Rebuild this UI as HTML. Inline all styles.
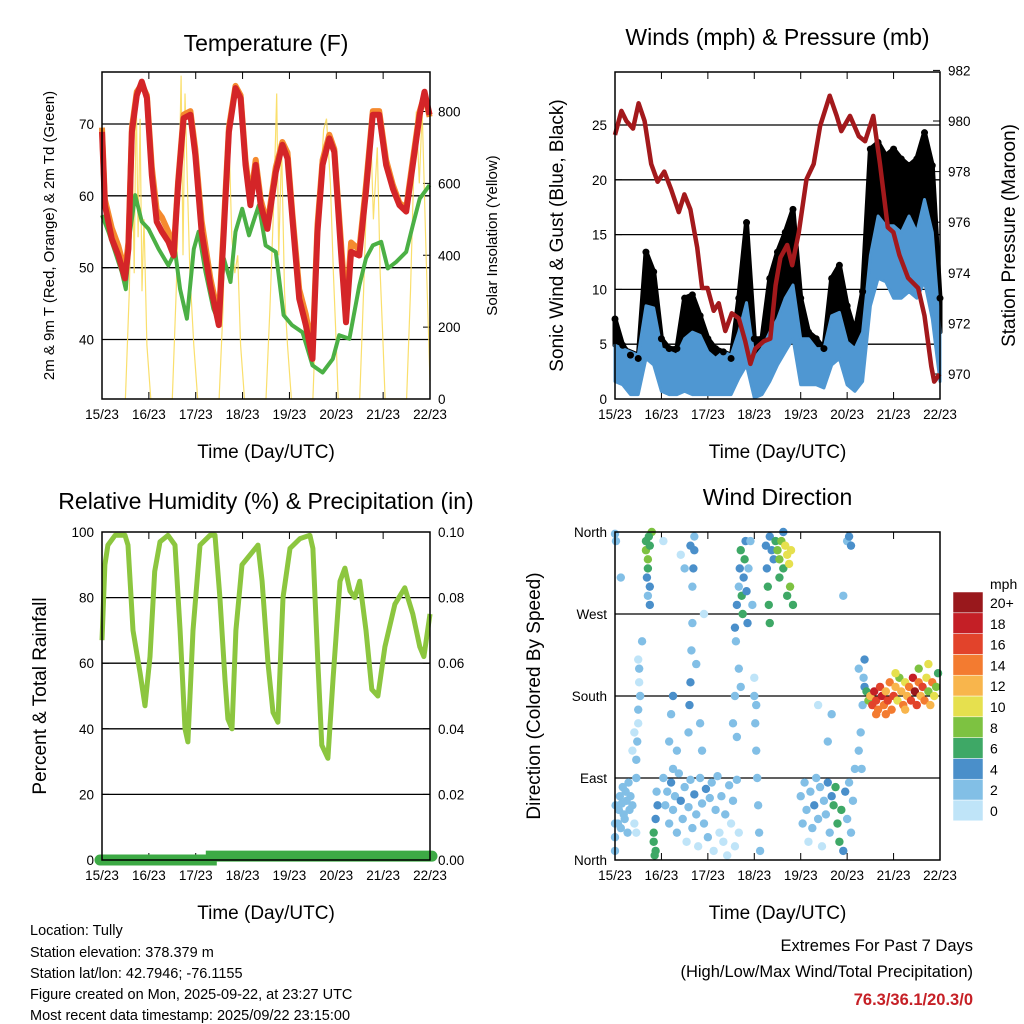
<!DOCTYPE html>
<html><head><meta charset="utf-8"><style>
html,body{margin:0;padding:0;background:#fff;}
svg{display:block;font-family:"Liberation Sans",sans-serif;}
</style></head><body>
<svg id="root" width="1024" height="1024" viewBox="0 0 1024 1024">
<g font-size="14.5" fill="#000">
<text x="30" y="935">Location: Tully</text>
<text x="30" y="957">Station elevation: 378.379 m</text>
<text x="30" y="978">Station lat/lon: 42.7946; -76.1155</text>
<text x="30" y="999">Figure created on Mon, 2025-09-22, at 23:27 UTC</text>
<text x="30" y="1020">Most recent data timestamp: 2025/09/22 23:15:00</text>
</g>
<g text-anchor="end">
<text x="973" y="951" font-size="16.5">Extremes For Past 7 Days</text>
<text x="973" y="977" font-size="16.5">(High/Low/Max Wind/Total Precipitation)</text>
<text x="973" y="1005" font-size="16.5" font-weight="bold" fill="#c62026">76.3/36.1/20.3/0</text>
</g>
</svg>
<script>
// ---------- DATA ----------
const dayLabels=["15/23","16/23","17/23","18/23","19/23","20/23","21/23","22/23"];
const tempHours=[0,1.5,5,8.4,11.8,13.5,15.3,17.8,20.4,23,25.5,28,30.7,34,36.7,39,41.8,45.3,47.8,51,55.5,59.8,62.4,65,68.4,71,73.5,76,78.7,81.3,84.7,89,92.4,95,97.5,101,104.4,107.8,110.4,113,116.4,119,122.4,125,127.6,131.8,135.2,138.7,142,145.5,149,152.4,155.8,159.2,162.7,165.2,167.8];
const tempRed=[68.9,58.7,54,51.7,48.5,52.6,68.9,74,75.9,73.6,62.9,56.4,55,53.6,51.7,61.5,70.8,71.3,65.7,55,47.5,42,55,68.9,75,73.6,64.3,58.7,64.3,58.7,55.4,63.3,67.1,65.2,56.8,45.7,42,37.3,55,64.3,68,66.1,52.2,42.4,52.2,51.7,60.6,71.3,71.3,64.3,61,58.7,57.8,64.3,71.3,74.5,71.3];
const tempOrange=[69.5,59.5,55.5,53,49.5,53.5,69.5,74.5,75.5,74,64,58,57,55,52.5,62,71.3,71.8,66.5,56.5,48.5,43,56,69.5,75.3,74,65,59.5,65,59.5,56,64,67.5,66,57.5,47,43.5,38.5,56,65,68.5,66.5,53.5,44,53.5,52.5,61.5,71.8,71.8,65,61.5,59,58.3,65,71.8,74,71];
const dewHours=[0,3.3,6.7,10.1,12.2,14.4,17,20.4,23.8,29,34,37.5,40,43.5,47,49.5,53,57,59.8,62.4,65.8,68.4,71.8,75.3,80.3,83.8,89,93,97.3,102.7,107.8,113,118.2,121.5,126.7,131.8,135.2,138.7,143,146.4,150.7,155.8,159.2,162.7,167.8];
const dewValues=[57.3,55,52.2,49.4,47,55,60.1,56.4,55.4,52.6,50.3,52.2,47,42.9,52.6,55,49.4,44.3,42.4,51.3,48,55,58.2,54.5,58.7,53.1,52.2,43.4,42,41,36.4,35.4,37.3,40.6,40.1,47.5,51.3,53.1,53.6,49.9,50.8,52.2,55.9,59.6,61.5];
const solarHours=[12,14,15.5,16.5,17.5,18.5,19.5,20.5,21.5,23,25, 36,38,39.5,40.5,41.5,42.5,44,45,47,49, 60,62,63.5,65,66.5,68,69.5,71,73, 84,86,88,89.5,90.5,92,93.5,95,97, 108,110,112,113.5,115,117,118.5,120,121, 132,134,136,137.5,139,141,142.5,144,145, 156,158,160,161,162.5,164,166,168];
const solarValues=[0,300,700,350,860,450,780,300,500,150,0, 0,300,600,900,400,850,550,350,150,0, 0,250,600,740,450,350,400,150,0, 0,250,550,850,400,700,300,150,0, 0,300,600,750,780,600,350,150,0, 0,300,650,770,500,700,350,150,0, 0,300,700,800,600,800,400,50];
const presHours=[0,3.3,5.9,9.3,12.2,15.3,18.7,22,25.5,29,33,35.9,39,42.5,45,47.8,51,53.6,57,60.4,64,67.3,70,72.5,77,80.3,83,85.5,89,91.6,95,99,102.7,106,111,114.6,117,121.5,126,129.3,133.5,137,141,143.9,147,151.5,156.7,160,163.5,165,167.8];
const presValues=[979.45,980.4,980,979.7,980.7,980,978.3,977.6,978,977.3,976.4,977.1,976.5,975,973.4,973.4,972.5,972.8,971.7,972.4,972.2,971.3,970.4,971,971.3,971.4,973.5,974.6,975.1,974.3,975.6,977.7,978.3,979.8,981,980.2,979.6,980.2,979.4,979.2,980.2,978.3,975.8,975.6,974.7,973.8,973.4,972.3,970.3,969.7,970];
const windHours=[0,4,8,12,16,20,24,28,32,36,40,44,48,52,56,60,64,68,72,76,80,84,88,92,96,100,104,108,112,116,120,124,128,132,136,140,144,148,152,156,160,164,168];
const windLow=[1.6,1.3,0.4,0.4,3.7,3.1,0.7,0.4,0.4,0.7,0.4,0.4,0.4,0.4,0.4,0.4,1.9,3.1,0.1,0.4,1.6,3.1,4.3,5.5,1.3,1.3,1.3,1,3.1,3.7,1.3,0.7,1.6,8.5,11,10.7,9.2,9.2,9.8,9.2,10.7,7.3,1.6];
const windHigh=[4.9,4.6,4.3,4,8.5,8.3,4.6,4.3,4,5.5,6.1,5.8,4.3,3.7,4.3,4,6.1,8.8,3.7,4.6,6.1,7.3,9.2,10.4,5.5,5.5,4.6,4.6,7.6,7.9,5.2,4.6,6.1,13.1,16.7,15.8,15.8,15.2,16.7,15.2,18.2,15.2,6.1];
const windGust=[7.3,4.9,4,3.7,13.4,11.6,5.5,4.6,4.6,9.2,9.5,7.6,5.5,4.6,4.3,3.7,9.2,16.1,5.5,5.5,11,13.4,15.2,17.3,9.2,6.1,5.5,4.6,11,12.2,8.5,6.1,9.8,22.8,23.4,22.2,22.8,21.9,21.3,21.9,24.3,21.3,9.2];
const rhHours=[0,1.5,3,6.7,11.8,13.3,15.9,19.5,22,24.6,27,29.7,33.8,37.4,40,42.5,44,46.6,50.2,55.3,57.9,60.4,63,64.5,66.6,68.6,71.7,75.8,79.9,82,85,87.6,90.1,92.7,96.3,101.4,106.5,108,110.6,112.6,115.7,118.3,121.9,124.4,127,129.5,132,135.2,138.2,141.3,144.9,150,155.1,159.2,162.8,164.9,168];
const rhValues=[67,90,96,99,99,96,70,57,47,62,88,97,99,96,70,40,36,70,96,99,99,80,55,43,40,70,90,93,96,85,60,45,42,80,95,98,99,95,60,35,31,55,85,89,82,80,85,70,52,50,65,78,83,75,65,62,75];
const precipHours=[-1,56,56,169];
const precipValues=[0,0,0.0012,0.0012];
const dirObs=[[0,10,3],[0,25,3],[0,40,2],[0.3,60,3],[0,358,2],[0.5,350,2],
[1.5,40,2],[2,55,2],[2.5,70,3],[3,35,2],[3.5,62,2],[4,80,2],[4.5,50,3],[5,45,2],[5.5,75,2],[6,65,3],[6.5,30,2],[7,85,2],[7.5,55,2],[8,70,3],[9,60,2],[10,40,1],[11,90,2],[11,110,2],[11.5,130,2],[12,150,1],[12,165,2],[12.5,195,1],[12.5,210,2],[12,220,1],[13,180,2],[14,240,2],[10,140,1],[9,120,1],[11,30,1],[3,310,2],
[16,350,6],[16,340,8],[17,330,8],[17,320,6],[16.5,310,4],[18,345,6],[18,300,4],[19,360,8],[17.5,355,6],[17,290,3],[18,280,4],[20,20,6],[20,30,6],[21,10,6],[21,45,5],[20.5,5,6],[22,60,5],[21.5,75,3],
[25,90,3],[26,60,2],[27,75,3],[28,40,2],[29,85,4],[30,55,2],[31,70,3],[32,30,2],[33,95,2],[34,65,4],[35,45,2],[36,80,3],[37,20,1],[38,58,2],[39,88,3],[40,35,2],[41,72,4],[42,50,3],[43,15,1],[44,90,2],[45,62,3],[46,40,2],[47,78,4],[48,25,2],[49,68,3],[50,85,2],[51,10,1],[52,55,2],[53,92,3],[54,30,1],[55,70,2],[56,20,1],[57,50,2],[58,5,1],[59,82,2],[60,40,1],[61,65,2],[62,15,1],[63,88,2],[64,30,1],
[28,130,2],[29,160,2],[30,180,4],[32,120,2],[38,140,2],[38.5,170,4],[39,195,4],[39.5,230,2],[40,260,2],[40,300,3],[40.5,320,5],[41,340,4],[41,355,3],[39,345,4],[36,320,2],[34,335,1],[25,350,1],[46,270,1],[42,215,2],[44,150,3],[45,120,2],[30,100,2],
[62,255,4],[62.5,240,3],[63,280,4],[64,300,3],[64.5,320,4],[65,340,6],[65.5,290,6],[66,270,6],[66.5,310,4],[67,330,6],[67.5,350,4],[68,295,5],[68.5,260,4],[69,320,3],[70,350,3],[71,280,3],[64,210,2],[65,190,2],[62,180,2],[61,150,2],[63,135,2],
[72,180,3],[72.5,150,2],[73,120,2],[73.5,90,2],[74,60,2],[74.5,30,2],[75,10,3],[72,200,1],[73,170,2],
[78,345,4],[78.5,320,4],[79,300,6],[79.5,280,6],[80,355,4],[81,340,4],[82,330,5],[83,350,7],[84,340,8],[85,330,8],[86,350,8],[87,320,7],[88,345,10],[89,335,10],[90,325,10],[91,340,10],[90.5,300,8],[92,280,6],[89,290,7],[87,360,5],[85,310,6],[80,260,6],
[96,70,3],[97,40,2],[98,85,3],[99,55,2],[100,20,1],[101,75,3],[102,35,2],[103,60,4],[104,90,2],[105,45,3],[106,80,2],[107,15,1],[108,65,3],[109,50,2],[110,85,4],[111,30,3],[112,70,4],[113,60,6],[114,80,6],[115,40,6],[116,20,6],[117,55,6],[118,10,5],[119,75,4],[120,45,3],[121,85,3],[122,30,2],[123,65,2],[124,100,3],[110,130,2],[112,160,3],[105,170,1],[120,350,3],[121,355,4],[122,345,4],[118,290,3],[126,210,2],
[126,120,2],[127,140,2],[128,170,3],[128.5,200,3],[129,220,4],[127.5,100,2],[129,190,5],[130,185,6],
[131,175,8],[132,180,12],[133,170,16],[134,185,18],[135,175,16],[136,165,14],[137,190,16],[138,180,18],[139,170,14],[140,185,12],[141,175,16],[142,195,14],[143,165,14],[144,180,16],[145,190,12],[146,175,10],[147,200,8],[148,185,12],[149,170,14],[150,195,10],[151,180,12],[152,190,14],[153,175,16],[154,200,18],[155,185,20],[156,170,16],[157,195,14],[158,180,12],[159,190,16],[160,175,14],[161,200,10],[162,185,8],[163,170,12],[164,195,14],[165,180,10],[166,190,8],[167,205,6],[135,160,14],[140,160,14],[145,205,10],[150,165,12],[157,210,8],[162,215,10]];
const speedColors=["#bfe4f8","#82bfe6","#4a8fca","#3ea866","#7dc241","#e6e04e","#f8b54c","#f37b30","#e2432b","#c41f26","#99181c"];
const speedLabels=["0","2","4","6","8","10","12","14","16","18","20+"];

// ---------- HELPERS ----------
const NS="http://www.w3.org/2000/svg";
const root=document.getElementById('root');
function el(tag,attrs,parent){const e=document.createElementNS(NS,tag);for(const k in attrs)e.setAttribute(k,attrs[k]);(parent||root).appendChild(e);return e;}
function lin(d0,d1,r0,r1){return v=>r0+(v-d0)/(d1-d0)*(r1-r0);}
function path(xs,ys,fx,fy){return xs.map((h,i)=>(i?'L':'M')+fx(h).toFixed(1)+' '+fy(ys[i]).toFixed(1)).join('');}

function panel(o){
  const g=el('g',{});
  
  
  const fx=lin(0,168,o.x0,o.x1);
  o.grid.forEach(v=>{const l=el('line',{x1:o.x0,x2:o.x1,y1:o.fy(v),y2:o.fy(v),stroke:'#000','stroke-width':1.3},g);});
  const t=el('text',{x:(o.x0+o.x1)/2,y:o.titleY,'text-anchor':'middle','font-size':23},g);t.textContent=o.title;
  
  const xt=el('text',{x:(o.x0+o.x1)/2,y:o.y1+59,'text-anchor':'middle','font-size':19},g);xt.textContent='Time (Day/UTC)';
  
  dayLabels.forEach((d,i)=>{const x=fx(i*24);const tx=el('text',{x:x,y:o.y1+20,'text-anchor':'middle','font-size':13.5},g);tx.textContent=d;
    
    el('line',{x1:x,x2:x,y1:o.y1,y2:o.y1-7,stroke:'#000'},g);el('line',{x1:x,x2:x,y1:o.y0,y2:o.y0+7,stroke:'#000'},g);});
  const ly=el('text',{transform:`translate(${o.lyX},${(o.y0+o.y1)/2}) rotate(-90)`,'text-anchor':'middle','font-size':o.lyFs},g);ly.textContent=o.leftTitle;
  
  if(o.rightTitle){const ry=el('text',{transform:`translate(${o.ryX},${(o.y0+o.y1)/2}) rotate(-90)`,'text-anchor':'middle','font-size':o.ryFs},g);ry.textContent=o.rightTitle;
    }
  o.lticks.forEach(([v,s])=>{const y=o.fy(v);const tx=el('text',{x:o.x0-8,y:y+5,'text-anchor':'end','font-size':13.5},g);tx.textContent=s;
    
    el('line',{x1:o.x0,x2:o.x0+7,y1:y,y2:y,stroke:'#000'},g);});
  (o.rticks||[]).forEach(([y,s])=>{const tx=el('text',{x:o.x1+8,y:y+5,'font-size':13.5},g);tx.textContent=s;
    
    el('line',{x1:o.x1,x2:o.x1-7,y1:y,y2:y,stroke:'#000'},g);});
  return {g,fx};
}
function frame(o,g){const r=el('rect',{x:o.x0,y:o.y0,width:o.x1-o.x0,height:o.y1-o.y0,fill:'none',stroke:'#000','stroke-width':1.5},g);}

// ---------- TEMPERATURE ----------
const P1={name:'temperature-panel',x0:102,x1:430,y0:72,y1:399,title:'Temperature (F)',titleY:51,leftTitle:'2m & 9m T (Red, Orange) & 2m Td (Green)',lyX:54,lyFs:15,rightTitle:'Solar Insolation (Yellow)',ryX:497,ryFs:15,
 fy:lin(40,70,339.5,124),grid:[70,60,50,40],lticks:[[70,'70'],[60,'60'],[50,'50'],[40,'40']]};
const solarY=lin(0,800,399,111.5);
P1.rticks=[[solarY(0),'0'],[solarY(200),'200'],[solarY(400),'400'],[solarY(600),'600'],[solarY(800),'800']];
{const {g,fx}=panel(P1);
 const s=el('path',{d:path(solarHours,solarValues,fx,solarY),fill:'none',stroke:'#f9dc5c','stroke-width':1.2,opacity:0.9},g);
 
 const dw=el('path',{d:path(dewHours,dewValues,fx,P1.fy),fill:'none',stroke:'#4bb045','stroke-width':4,'stroke-linejoin':'round'},g);
 
 const or=el('path',{d:path(tempHours,tempOrange,fx,P1.fy),fill:'none',stroke:'#f58a2e','stroke-width':6,'stroke-linejoin':'round'},g);
 
 const rd=el('path',{d:path(tempHours,tempRed,fx,P1.fy),fill:'none',stroke:'#d42528','stroke-width':6,'stroke-linejoin':'round'},g);
 
 frame(P1,g);}

// ---------- WINDS ----------
const P2={name:'winds-panel',x0:615,x1:940,y0:72,y1:399,title:'Winds (mph) & Pressure (mb)',titleY:45,leftTitle:'Sonic Wind & Gust (Blue, Black)',lyX:563,lyFs:19,rightTitle:'Station Pressure (Maroon)',ryX:1015,ryFs:19,
 fy:lin(0,25,399,125),grid:[5,10,15,20,25],lticks:[[0,'0'],[5,'5'],[10,'10'],[15,'15'],[20,'20'],[25,'25']]};
const presY=lin(970,980,374,121);
P2.rticks=[970,972,974,976,978,980,982].map(v=>[presY(v),String(v)]);
{const {g,fx}=panel(P2);
 const gp=windHours.map((h,i)=>fx(h).toFixed(1)+','+P2.fy(windGust[i]).toFixed(1)).join(' ')+' '+windHours.slice().reverse().map((h,j)=>{const i=windHours.length-1-j;return fx(h).toFixed(1)+','+P2.fy(windHigh[i]).toFixed(1);}).join(' ');
 const gb=el('polygon',{points:gp,fill:'#000',stroke:'#000','stroke-width':5,'stroke-linejoin':'round'},g);
 
 const bp=windHours.map((h,i)=>fx(h).toFixed(1)+','+P2.fy(windHigh[i]).toFixed(1)).join(' ')+' '+windHours.slice().reverse().map((h,j)=>{const i=windHours.length-1-j;return fx(h).toFixed(1)+','+P2.fy(windLow[i]).toFixed(1);}).join(' ');
 const bb=el('polygon',{points:bp,fill:'#4f97d2',stroke:'#4f97d2','stroke-width':3,'stroke-linejoin':'round'},g);
 
 windHours.forEach((h,i)=>{const c=el('circle',{cx:fx(h),cy:P2.fy(windGust[i]),r:3.5,fill:'#000'},g);
   });
 const pr=el('path',{d:path(presHours,presValues,fx,presY),fill:'none',stroke:'#a3191c','stroke-width':4.5,'stroke-linejoin':'round'},g);
 
 frame(P2,g);}

// ---------- RH ----------
const P3={name:'humidity-panel',x0:102,x1:430,y0:532,y1:860,title:'Relative Humidity (%) & Precipitation (in)',titleY:509,leftTitle:'Percent & Total Rainfall',lyX:46,lyFs:19,rightTitle:'',
 fy:lin(0,100,860,532),grid:[20,40,60,80],lticks:[[0,'0'],[20,'20'],[40,'40'],[60,'60'],[80,'80'],[100,'100']]};
const precipY=lin(0,0.1,860,532);
P3.rticks=[0,0.02,0.04,0.06,0.08,0.1].map(v=>[precipY(v),v.toFixed(2)]);
{const {g,fx}=panel(P3);
 const rh=el('path',{d:path(rhHours,rhValues,fx,P3.fy),fill:'none',stroke:'#8cc63f','stroke-width':5,'stroke-linejoin':'round'},g);
 
 const pc=el('path',{d:path(precipHours,precipValues,fx,precipY),fill:'none',stroke:'#3daa45','stroke-width':11,'stroke-linecap':'round'},g);
 
 frame(P3,g);}

// ---------- WIND DIRECTION ----------
const P4={name:'wind-direction-panel',x0:615,x1:940,y0:532,y1:860,title:'Wind Direction',titleY:505,leftTitle:'Direction (Colored By Speed)',lyX:540,lyFs:19,rightTitle:'',
 fy:lin(0,360,860,532),grid:[90,180,270],lticks:[[0,'North'],[90,'East'],[180,'South'],[270,'West'],[360,'North']]};
{const {g,fx}=panel(P4);
 dirObs.forEach(([h,d,s])=>{const c=el('circle',{cx:fx(h),cy:P4.fy(d),r:4.2,fill:speedColors[Math.min(10,Math.floor(s/2))]},g);
   });
 frame(P4,g);
 const cb=el('g',{},g);
 const mt=el('text',{x:990,y:589,'font-size':14},cb);mt.textContent='mph';
 speedColors.forEach((c,i)=>{const y=800-i*20.8;
   const r=el('rect',{x:953,y:y,width:30,height:20.8,fill:c,stroke:'#fff','stroke-width':0.5},cb);
   
   const tx=el('text',{x:990,y:y+16,'font-size':14},cb);tx.textContent=speedLabels[i];
   });
}
</script>
</body></html>
